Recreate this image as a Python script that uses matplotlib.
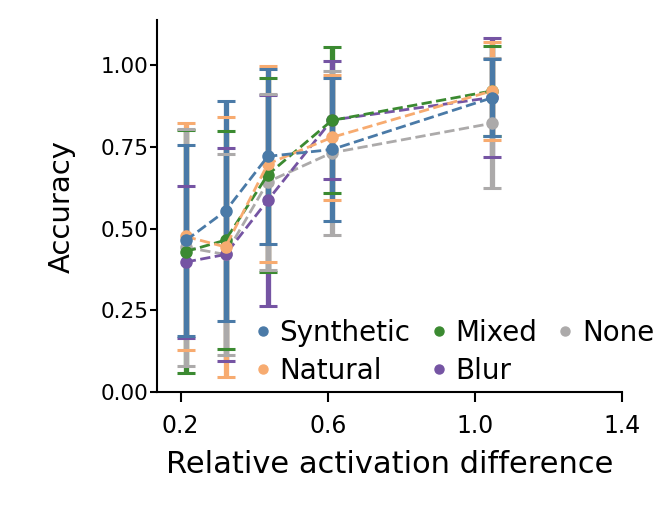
import numpy as np
import matplotlib
matplotlib.use("Agg")
import matplotlib.pyplot as plt

x = [0.214, 0.322, 0.437, 0.611, 1.046]

names = ["Synthetic", "Natural", "Mixed", "Blur", "None"]
colors = ["#4a7aa7", "#f7ab70", "#3b8a31", "#7554a3", "#acaaaa"]

acc = {
    "Synthetic": [0.464, 0.554, 0.721, 0.742, 0.900],
    "Natural":   [0.476, 0.444, 0.698, 0.779, 0.921],
    "Mixed":     [0.430, 0.465, 0.665, 0.831, 0.921],
    "Blur":      [0.398, 0.421, 0.587, 0.832, 0.901],
    "None":      [0.443, 0.421, 0.643, 0.732, 0.822],
}
err = {
    "Synthetic": [0.293, 0.337, 0.267, 0.220, 0.118],
    "Natural":   [0.348, 0.398, 0.300, 0.190, 0.150],
    "Mixed":     [0.372, 0.333, 0.297, 0.223, 0.137],
    "Blur":      [0.232, 0.326, 0.323, 0.181, 0.181],
    "None":      [0.363, 0.306, 0.270, 0.250, 0.199],
}

fig = plt.figure(figsize=(6.64, 5.12), dpi=100)
ax = fig.add_axes([0.236, 0.234, 0.701, 0.727])

# error bars: vertical lines stacked, caps always on top
bar_order = ["Mixed", "Blur", "Natural", "None", "Synthetic"]
for i, nm in enumerate(bar_order):
    c = colors[names.index(nm)]
    _, caps, bars = ax.errorbar(x, acc[nm], yerr=err[nm], fmt="none", ecolor=c,
                                elinewidth=3.8, capsize=6.5, capthick=2.2)
    for b in bars:
        b.set_zorder(1 + i * 0.01)
    for cp in caps:
        cp.set_zorder(2)

for nm in names[::-1]:
    c = colors[names.index(nm)]
    ax.plot(x, acc[nm], ls="--", lw=2, color=c, marker="o", ms=8, zorder=3)

handles = [plt.Line2D([], [], ls="none", marker="o", ms=6.5, color=c) for c in colors]
ax.legend(handles, names, ncol=3, frameon=False, fontsize=20,
          loc="lower right", bbox_to_anchor=(1.105, -0.025),
          handletextpad=0.15, columnspacing=0.57, labelspacing=0.35,
          handlelength=0.9, borderaxespad=0.2)

ax.set_xlim(0.135, 1.4)
ax.set_ylim(0, 1.138)
ax.set_xticks([0.2, 0.6, 1.0, 1.4])
ax.set_yticks([0, 0.25, 0.5, 0.75, 1.0])
ax.set_yticklabels(["0.00", "0.25", "0.50", "0.75", "1.00"])
ax.tick_params(axis="x", labelsize=17, width=1.5, length=7, pad=9)
ax.tick_params(axis="y", labelsize=15.5, width=1.5, length=5, pad=1)
ax.set_xlabel("Relative activation difference", fontsize=22, labelpad=8)
ax.set_ylabel("Accuracy", fontsize=21, labelpad=18)
for s in ["top", "right"]:
    ax.spines[s].set_visible(False)
for s in ["left", "bottom"]:
    ax.spines[s].set_linewidth(1.5)

fig.savefig("out.png", dpi=100)
